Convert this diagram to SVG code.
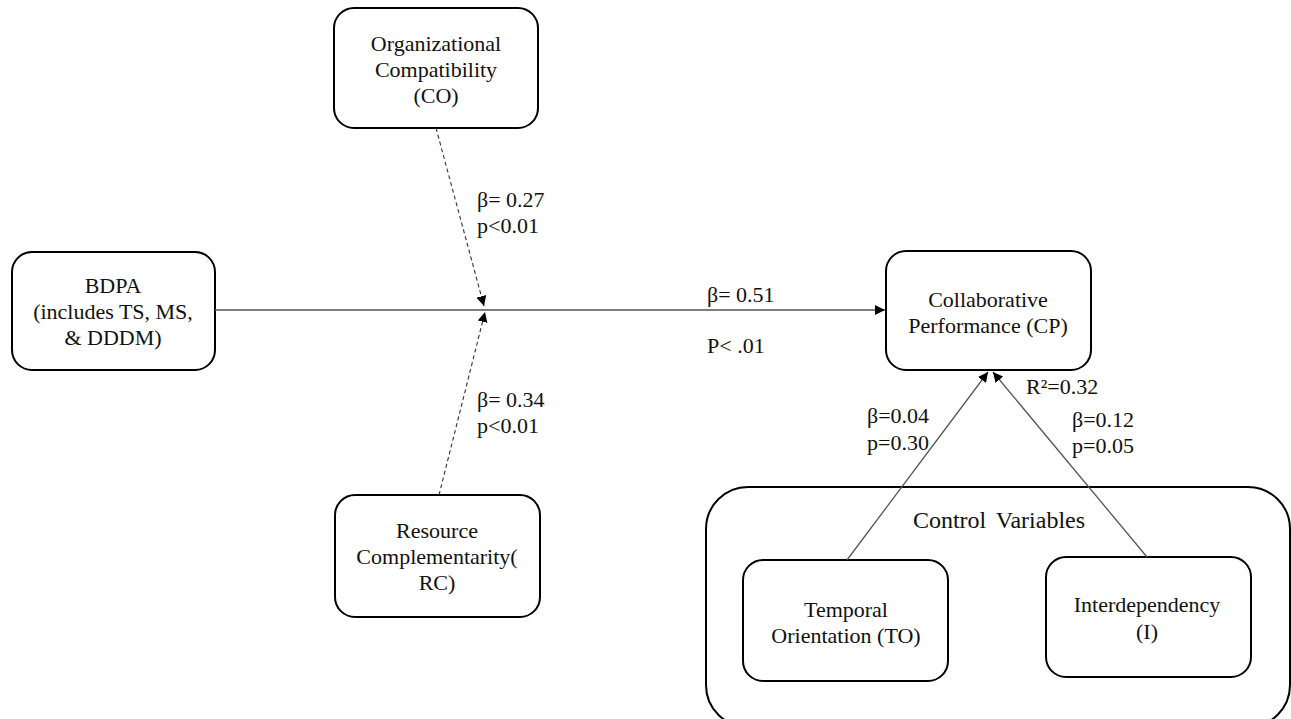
<svg xmlns="http://www.w3.org/2000/svg" width="1291" height="719" viewBox="0 0 1291 719">
<style>
.box{fill:#fff;stroke:#000;stroke-width:2}
.t{font-family:"Liberation Serif","Times New Roman",serif;font-size:22px;fill:#111}
.c{text-anchor:middle}
.ln{fill:none;stroke:#555;stroke-width:1.3}
.dash{fill:none;stroke:#333;stroke-width:1.1;stroke-dasharray:4 3}
</style>
<defs>
<marker id="ah" viewBox="0 0 10 10" refX="10" refY="5" markerWidth="10" markerHeight="10" markerUnits="userSpaceOnUse" orient="auto">
<path d="M0,0 L10,5 L0,10 z" fill="#000"/>
</marker>
</defs>
<rect width="1291" height="719" fill="#fff"/>
<g id="control-variables">
<rect class="box" x="706" y="487" width="584" height="240" rx="42"/>
<text class="t c" x="999" y="528" font-size="24" style="font-size:24px;word-spacing:4px">Control Variables</text>
</g>
<g id="CO">
<rect class="box" x="334" y="8" width="204" height="120" rx="20"/>
<text class="t c" x="436" y="51">Organizational</text>
<text class="t c" x="436" y="77">Compatibility</text>
<text class="t c" x="436" y="103">(CO)</text>
</g>
<g id="BDPA">
<rect class="box" x="12" y="252" width="203" height="118" rx="20"/>
<text class="t c" x="113" y="293">BDPA</text>
<text class="t c" x="113" y="319">(includes TS, MS,</text>
<text class="t c" x="113" y="345">&amp; DDDM)</text>
</g>
<g id="RC">
<rect class="box" x="335" y="495" width="205" height="122" rx="20"/>
<text class="t c" x="437" y="538">Resource</text>
<text class="t c" x="437" y="564">Complementarity(</text>
<text class="t c" x="437" y="590">RC)</text>
</g>
<g id="CP">
<rect class="box" x="886" y="251" width="205" height="119" rx="20"/>
<text class="t c" x="988" y="307">Collaborative</text>
<text class="t c" x="988" y="333">Performance (CP)</text>
</g>
<g id="TO">
<rect class="box" x="743" y="560" width="205" height="121" rx="20"/>
<text class="t c" x="846" y="617">Temporal</text>
<text class="t c" x="846" y="643">Orientation (TO)</text>
</g>
<g id="I">
<rect class="box" x="1046" y="557" width="205" height="120" rx="20"/>
<text class="t c" x="1147" y="612">Interdependency</text>
<text class="t c" x="1147" y="639">(I)</text>
</g>
<g id="connectors">
<line class="ln" x1="215" y1="310" x2="885" y2="310" marker-end="url(#ah)"/>
<line class="dash" x1="436" y1="128" x2="484" y2="306" marker-end="url(#ah)"/>
<line class="dash" x1="439" y1="495" x2="485" y2="312" marker-end="url(#ah)"/>
<line class="ln" x1="847" y1="560" x2="988" y2="372" marker-end="url(#ah)"/>
<line class="ln" x1="1147" y1="557" x2="993" y2="372" marker-end="url(#ah)"/>
</g>
<g id="labels">
<text class="t" x="477" y="207">β= 0.27</text>
<text class="t" x="477" y="233">p&lt;0.01</text>
<text class="t" x="477" y="407">β= 0.34</text>
<text class="t" x="477" y="433">p&lt;0.01</text>
<text class="t" x="707" y="302">β= 0.51</text>
<text class="t" x="707" y="353">P&lt; .01</text>
<text class="t" x="867" y="423">β=0.04</text>
<text class="t" x="867" y="450">p=0.30</text>
<text class="t" x="1026" y="394">R²=0.32</text>
<text class="t" x="1072" y="427">β=0.12</text>
<text class="t" x="1072" y="453">p=0.05</text>
</g>
</svg>
